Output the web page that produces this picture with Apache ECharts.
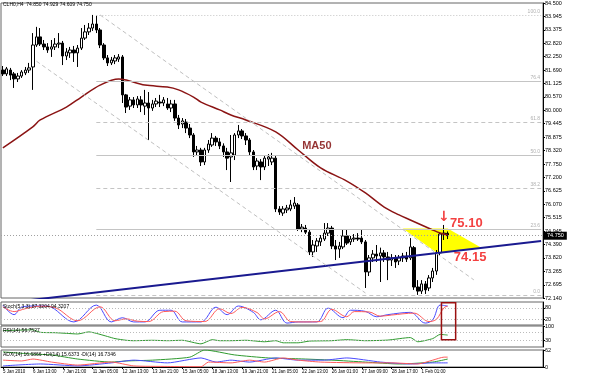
<!DOCTYPE html>
<html>
<head>
<meta charset="utf-8">
<script src="https://cdn.jsdelivr.net/npm/echarts@6.0.0/dist/echarts.min.js"></script>
<style>
html,body{margin:0;padding:0;background:#fff;}
#chart{width:600px;height:376px;}
</style>
</head>
<body>
<div id="chart"></div>
<script>
const FONT = 'Liberation Sans';

// ---------- texts ----------
const titleText = 'CLH0,H4  74.850 74.929 74.609 74.750';
const stochTitle = 'Stoch(5,3,3) 87.3204 94.3207';
const rsiTitle = 'RSI(14) 56.7527';
const adxTitle = 'ADX(14) 16.6866 +DI(14) 15.6373 -DI(14) 16.7346';

// ---------- categories (H4 bars) ----------
const hours = ['01:00','05:00','09:00','13:00','17:00','21:00'];
const sessionDays = ['5 Jan','6 Jan','7 Jan','8 Jan','11 Jan','12 Jan','13 Jan','14 Jan','15 Jan','18 Jan','19 Jan','20 Jan','21 Jan','22 Jan','25 Jan','26 Jan','27 Jan','28 Jan','29 Jan','1 Feb','2 Feb'];
const partialDays = {'5 Jan': hours.slice(1), '22 Jan': hours.slice(0,5), '2 Feb': hours.slice(0,2)};
const totalSlots = 145;
const categories = [];
sessionDays.forEach(d => (partialDays[d] || hours).forEach(h => categories.push(d + ' ' + h)));
const barCount = categories.length;
while (categories.length < totalSlots) categories.push('slot' + categories.length);

const xTickLabels = ['5 Jan 2010','6 Jan 13:00','7 Jan 21:00','11 Jan 05:00','12 Jan 13:00','13 Jan 21:00','15 Jan 05:00','18 Jan 13:00','19 Jan 21:00','21 Jan 05:00','22 Jan 13:00','26 Jan 01:00','27 Jan 09:00','28 Jan 17:00','1 Feb 01:00'];
const priceTickLabels = ['72.140','72.695','73.265','73.820','74.390','74.945','75.515','76.070','76.625','77.200','77.750','78.320','78.875','79.445','80.000','80.570','81.125','81.690','82.250','82.820','83.375','83.945','84.500'];

// ---------- candles: [open, close, low, high] ----------
const ohlc = [
[81.69,81.53,81.44,81.86],[81.53,81.74,81.44,81.82],[81.69,81.48,81.27,81.78],[81.53,81.32,80.94,81.61],
[81.32,81.44,81.19,81.57],[81.44,81.61,81.36,81.69],[81.57,81.69,81.48,81.82],[81.69,81.78,81.57,81.99],
[81.82,82.74,80.86,83.24],[82.74,83.08,82.66,83.50],[83.08,82.78,82.70,83.45],[82.78,82.66,82.53,82.95],
[82.66,82.53,82.41,82.82],[82.57,82.66,82.24,82.95],[82.66,82.78,82.53,83.03],[82.78,82.82,82.61,83.24],
[82.82,82.28,81.90,82.91],[82.28,82.45,82.11,82.61],[82.41,82.53,82.20,82.66],[82.53,82.41,82.03,82.70],
[82.41,82.61,81.82,82.74],[82.61,83.03,82.53,83.45],[83.03,83.29,82.95,83.58],[83.29,83.45,83.16,83.66],
[83.45,83.62,83.33,84.00],[83.62,83.37,83.24,83.97],[83.37,82.74,82.61,83.45],[82.74,82.20,82.11,82.82],
[82.20,81.99,81.86,82.32],[81.99,82.11,81.90,82.24],[82.07,82.20,81.94,82.32],[82.15,82.24,82.03,82.36],
[82.24,80.65,80.31,82.32],[80.65,80.14,79.89,80.69],[80.18,80.44,80.02,80.56],[80.44,80.23,80.10,80.56],
[80.23,80.48,80.10,80.60],[80.44,80.23,79.93,80.60],[80.18,80.31,79.81,80.86],[80.31,80.10,78.76,80.77],
[80.10,80.27,79.98,80.44],[80.27,80.39,80.14,80.52],[80.35,80.31,80.14,80.65],[80.31,80.44,80.18,80.56],
[80.27,80.10,80.02,80.52],[80.10,80.27,79.93,80.44],[80.27,79.68,79.56,80.44],[79.68,79.39,79.22,79.81],
[79.43,79.56,79.26,79.68],[79.51,79.26,79.05,79.64],[79.26,78.97,78.84,79.43],[78.97,78.26,78.05,79.05],
[78.26,78.34,78.09,78.51],[78.34,77.84,77.67,78.43],[77.84,78.34,77.71,78.43],[78.34,78.59,78.22,78.76],
[78.55,78.84,78.47,79.05],[78.84,78.68,78.51,78.93],[78.68,78.51,78.38,78.84],[78.51,78.26,78.05,78.62],
[78.26,78.00,77.50,78.43],[78.05,78.22,77.00,78.97],[78.13,78.97,77.92,79.05],[78.97,79.14,78.84,79.39],
[79.14,78.93,78.80,79.22],[78.93,78.76,78.55,79.05],[78.76,78.26,78.13,78.84],[78.26,77.63,77.50,78.34],
[77.67,77.88,77.50,78.00],[77.84,77.63,77.08,77.96],[77.63,78.00,77.50,78.09],[77.96,78.05,77.67,78.17],
[77.84,78.00,77.71,78.22],[78.00,75.87,75.74,78.09],[75.87,75.74,75.62,75.99],[75.70,75.87,75.58,75.99],
[75.83,75.91,75.70,76.04],[75.87,76.04,75.78,76.25],[75.99,76.12,75.87,76.37],[76.04,75.03,74.95,76.12],
[75.03,75.11,74.90,75.24],[75.07,74.90,74.82,75.20],[74.90,74.07,73.94,74.99],[74.07,74.36,73.86,74.57],
[74.32,74.53,74.07,74.65],[74.49,74.65,74.32,74.78],[74.61,74.86,74.53,75.28],[74.86,75.07,74.74,75.28],
[75.07,74.32,74.19,75.16],[74.32,74.19,73.73,74.57],[74.19,74.32,73.82,74.49],[74.28,74.74,74.19,74.99],
[74.74,74.44,74.36,74.99],[74.49,74.61,74.36,74.74],[74.61,74.65,74.49,74.82],[74.65,74.61,74.53,74.86],
[74.65,74.49,74.40,74.99],[74.49,73.23,72.56,74.57],[73.23,73.82,73.06,73.94],[73.82,73.98,73.65,74.15],
[73.98,73.90,73.65,74.36],[73.90,74.03,72.81,74.25],[74.03,73.86,73.65,74.15],[73.86,73.73,72.89,74.07],
[73.73,73.82,73.48,73.98],[73.82,73.65,73.40,73.94],[73.69,73.82,73.52,73.94],[73.82,73.90,73.65,74.03],
[73.90,73.77,73.65,74.07],[73.82,74.28,73.73,74.65],[74.25,72.60,72.48,74.32],[72.60,72.43,72.27,72.89],
[72.43,72.73,72.31,72.89],[72.73,72.48,72.31,72.85],[72.56,72.98,72.43,73.10],[72.98,73.27,72.81,73.40],
[73.27,74.03,73.11,74.15],[74.03,74.82,73.90,74.90],[74.82,74.86,74.57,75.20],[74.85,74.75,74.61,74.93]
];
const lastPrice = 74.75;

// ---------- overlays on price panel ----------
const ma50 = [[0,78.43],[8,79.31],[10,79.60],[17,80.14],[21,80.56],[26,81.06],[31,81.32],[33,81.27],[38,81.06],[44,80.98],[47,80.86],[51,80.56],[53,80.35],[58,80.02],[61,79.81],[65,79.60],[73,79.10],[79,78.34],[85,77.59],[92,77.04],[97,76.54],[102,75.95],[106,75.62],[109,75.41],[115,74.99],[117,74.86],[119,74.78]];
const trendLine = [[0,71.92],[144,74.53]];
const channelUpper = [[26,84.00],[126,72.90]];
const channelLower = [[9,82.06],[97,72.35]];
const fibLabels = ['100.0','76.4','61.8','50.0','38.2','23.6','0.0'];
const fibPrices = [84.00,81.23,79.52,78.14,76.75,75.04,72.27];
const fibStartBar = 25, fibEndBar = 144;
const zonePoints = [[107,75.05],[119,75.05],[128,74.25],[116,74.05]];
const noteTexts = ['MA50','75.10','74.15','\u2193'];
const noteBars = [84,124,125,118];
const notePrices = [78.51,75.28,73.86,75.52];

// ---------- indicator panels ----------
const stochK = [[0,94],[3,44],[5,83],[8,89],[11,89],[13,83],[19,6],[25,94],[29,6],[32,28],[35,6],[38,6],[42,67],[45,67],[48,6],[53,6],[57,83],[60,44],[63,89],[67,56],[69,17],[73,67],[76,0],[79,6],[84,6],[87,78],[91,28],[93,67],[97,61],[100,33],[103,44],[109,56],[113,0],[115,17],[117,94],[119,89]];
const stochD = [[0,85],[3,60],[6,75],[10,88],[14,80],[20,12],[26,85],[30,12],[33,22],[36,10],[39,8],[43,60],[46,62],[49,12],[54,8],[58,75],[61,50],[64,82],[68,55],[70,22],[74,60],[77,8],[80,6],[85,8],[88,72],[92,33],[94,60],[98,58],[101,36],[104,42],[110,52],[114,8],[116,20],[118,80],[119,88]];
const rsi = [[0,78],[4,80],[8,82],[10,70],[14,68],[17,65],[20,62],[23,72],[25,65],[28,50],[30,40],[33,32],[35,30],[40,32],[44,30],[48,32],[53,15],[56,35],[58,30],[61,30],[65,32],[70,25],[73,30],[75,20],[79,20],[82,28],[88,30],[92,35],[97,30],[103,33],[109,45],[111,25],[115,40],[117,60],[119,56.75]];
const adxMain = [[0,55],[8,47],[13,44],[20,29],[29,18],[33,22],[40,25],[50,36],[54,62],[62,44],[71,33],[79,30],[88,25],[97,18],[106,11],[115,18],[119,29]];
const plusDI = [[0,4],[10,11],[20,4],[29,15],[35,25],[44,15],[53,33],[57,18],[61,25],[66,18],[73,33],[79,25],[86,25],[92,33],[101,18],[109,11],[115,15],[119,15]];
const minusDI = [[0,25],[5,22],[8,29],[13,18],[20,7],[29,18],[35,4],[44,2],[53,1],[55,18],[61,15],[66,25],[70,18],[75,33],[79,25],[85,18],[97,15],[104,15],[111,11],[115,25],[118,36],[119,36]];
const box = {fromBar:118, toBar:121, stochTop:106, rsiBottom:35};

// ---------- chart ----------
const chart = echarts.init(document.getElementById('chart'), null, {renderer:'canvas'});
const tickFn = (i) => i % 8 === 0 && i < barCount;
const gridBase = {left:1, right:57, show:true, borderColor:'#666', borderWidth:1, backgroundColor:'transparent'};
const xBase = (gi) => ({type:'category', gridIndex:gi, data:categories, boundaryGap:true,
  axisLine:{show:false}, axisTick:{show:false}, axisLabel:{show:false}, splitLine:{show:false}, axisPointer:{show:false}});
const yBase = (gi, min, max, vals, fmt) => ({type:'value', gridIndex:gi, position:'right', min:min, max:max,
  axisLine:{show:true, lineStyle:{color:'#000', width:1}},
  axisTick:{show:true, length:2, customValues:vals, lineStyle:{color:'#000'}},
  axisLabel:{show:true, customValues:vals, formatter:fmt, fontSize:5.5, color:'#000', margin:2, fontFamily:FONT},
  splitLine:{show:false}});

const fibStyle = ['dotted','solid','dashed','solid','dashed','solid','dashed'];
const dashOf = (t) => t === 'dotted' ? [1,2] : (t === 'dashed' ? [4,3] : 'solid');
const markLines = [];
fibLabels.forEach((lab, i) => {
  markLines.push([
    {coord:[fibStartBar, fibPrices[i]], lineStyle:{color:'#c4c4c4', width:1, type:dashOf(fibStyle[i])},
     label:{show:true, position:'insideEndTop', formatter:lab, fontSize:5, color:'#b0b0b0', distance:1, fontFamily:FONT}},
    {coord:[fibEndBar, fibPrices[i]]}
  ]);
});
[channelUpper, channelLower].forEach(c => {
  markLines.push([{coord:c[0], lineStyle:{color:'#c0c0c0', width:1, type:[4,3]}, label:{show:false}}, {coord:c[1]}]);
});
markLines.push({yAxis:lastPrice, lineStyle:{color:'#a0a0a0', width:1, type:[1,2]},
  label:{show:true, position:'end', formatter:lastPrice.toFixed(3), backgroundColor:'#000', color:'#fff', fontSize:5.5, padding:[1,3], distance:1, fontFamily:FONT}});

const noteStyles = [
  {color:'#7a0000', fontSize:11, fontFamily:FONT},
  {color:'#f01010', fontSize:13, fontFamily:FONT},
  {color:'#f01010', fontSize:13, fontFamily:FONT},
  {color:'#f01010', fontSize:14, fontFamily:'DejaVu Sans'}
];

const lineS = (name, xi, data, color, extra) => Object.assign({type:'line', name, xAxisIndex:xi, yAxisIndex:xi, data,
  symbol:'none', showSymbol:false, lineStyle:{color, width:1}, silent:true, animation:false}, extra || {});

chart.setOption({
  animation:false,
  backgroundColor:'#fff',
  grid:[
    Object.assign({top:3, height:295}, gridBase),
    Object.assign({top:302, height:23}, gridBase),
    Object.assign({top:326, height:21}, gridBase),
    Object.assign({top:350, height:17}, gridBase)
  ],
  xAxis:[xBase(0), xBase(1), xBase(2), Object.assign(xBase(3), {
    axisLine:{show:true, lineStyle:{color:'#000'}},
    axisTick:{show:true, interval:tickFn, alignWithLabel:true, length:2, lineStyle:{color:'#000'}},
    axisLabel:{show:true, interval:tickFn, formatter:(v, i) => xTickLabels[i / 8] || '', align:'left', fontSize:4.5, color:'#000', margin:2, fontFamily:FONT}
  })],
  yAxis:[
    yBase(0, 72.14, 84.5, priceTickLabels.map(Number), v => v.toFixed(3)),
    yBase(1, -10, 110, [0,20,80,100], v => String(v)),
    yBase(2, 0, 100, [30,100], v => String(v)),
    yBase(3, 0, 62, [0,62], v => String(v))
  ],
  series:[
    {type:'custom', name:'zone', xAxisIndex:0, yAxisIndex:0, data:[0], z:1, silent:true,
     renderItem:(params, api) => ({type:'polygon', shape:{points:zonePoints.map(p => api.coord(p))}, style:{fill:'#ffff00'}})},
    {type:'candlestick', name:'price', xAxisIndex:0, yAxisIndex:0, data:ohlc, barWidth:3, z:3, silent:true,
     itemStyle:{color:'#ffffff', color0:'#000000', borderColor:'#000000', borderColor0:'#000000', borderWidth:1},
     markLine:{silent:true, symbol:['none','none'], animation:false, data:markLines}},
    lineS('MA50', 0, ma50, '#8b1414', {smooth:0.35, lineStyle:{color:'#8b1414', width:1.5}, z:4}),
    lineS('trend', 0, trendLine, '#1e1e8c', {lineStyle:{color:'#1a1a90', width:2}, clip:true, z:4}),
    {type:'scatter', name:'notes', xAxisIndex:0, yAxisIndex:0, symbolSize:1, itemStyle:{color:'rgba(0,0,0,0)'}, z:6, silent:true, clip:false,
     data: noteTexts.map((t, i) => ({value:[noteBars[i], notePrices[i]],
       label:Object.assign({show:true, position:'inside', formatter:t, fontWeight:'bold'}, noteStyles[i])}))},
    lineS('%K', 1, stochK, '#4a4aff', {smooth:0.35,
      markLine:{silent:true, symbol:['none','none'], label:{show:false}, lineStyle:{color:'#bbb', type:[1,2], width:1}, data:[{yAxis:80},{yAxis:20}]}}),
    lineS('%D', 1, stochD, '#ff5a5a', {smooth:0.35}),
    lineS('RSI', 2, rsi, '#2f9a2f', {smooth:0.2,
      markLine:{silent:true, symbol:['none','none'], label:{show:false}, lineStyle:{color:'#bbb', type:[1,2], width:1}, data:[{yAxis:70},{yAxis:30}]}}),
    lineS('ADX', 3, adxMain, '#2f9a2f', {smooth:0.2}),
    lineS('+DI', 3, plusDI, '#4a4aff', {smooth:0.2}),
    lineS('-DI', 3, minusDI, '#ff5a5a', {smooth:0.2})
  ]
});

const x1 = chart.convertToPixel({xAxisIndex:1}, box.fromBar) - 2.5;
const x2 = chart.convertToPixel({xAxisIndex:1}, box.toBar) + 0.5;
const y1 = chart.convertToPixel({yAxisIndex:1}, box.stochTop);
const y2 = chart.convertToPixel({yAxisIndex:2}, box.rsiBottom);
const txt = (t, x, y) => ({type:'text', left:x, top:y, silent:true, z:10, style:{text:t, fill:'#000', font:'5px ' + FONT}});
chart.setOption({graphic:[
  txt(titleText, 3, 2),
  txt(stochTitle, 3, 304),
  txt(rsiTitle, 3, 328),
  txt(adxTitle, 3, 352),
  {type:'rect', silent:true, z:10, shape:{x:x1, y:y1, width:x2 - x1, height:y2 - y1},
   style:{fill:'none', stroke:'#9a1010', lineWidth:1.5}}
]});
</script>
</body>
</html>
